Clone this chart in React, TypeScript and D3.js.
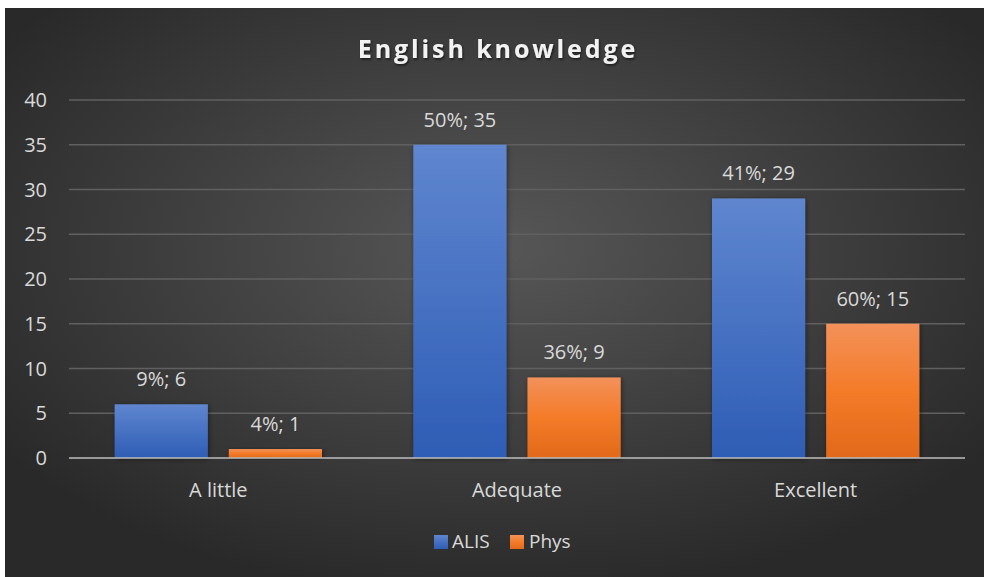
import React from "react";
import * as d3 from "d3";

const categories = ["A little", "Adequate", "Excellent"];
const seriesNames = ["ALIS", "Phys"];
const alisValues = [6, 35, 29];
const physValues = [1, 9, 15];
const alisPct = ["9%", "50%", "41%"];
const physPct = ["4%", "36%", "60%"];
const yTicks = [0, 5, 10, 15, 20, 25, 30, 35, 40];

const W = 984;
const H = 577;
const font = "'Open Sans', sans-serif";
const textColor = "#d9d9d9";

function App() {
  const margin = { left: 69, right: 19, top: 100, bottom: 119 };
  const plotW = W - margin.left - margin.right;

  const x0 = d3
    .scaleBand()
    .domain(categories)
    .range([margin.left, W - margin.right])
    .paddingInner(0)
    .paddingOuter(0);

  const x1 = d3
    .scaleBand()
    .domain(seriesNames)
    .range([0, x0.bandwidth()])
    .paddingInner(0.184)
    .paddingOuter(0.4);

  const y = d3
    .scaleLinear()
    .domain([0, 40])
    .range([H - margin.bottom, margin.top]);

  const series = [
    { name: "ALIS", values: alisValues, pct: alisPct, fill: "url(#gBlue)" },
    { name: "Phys", values: physValues, pct: physPct, fill: "url(#gOrange)" },
  ];

  return (
    <svg
      width={W}
      height={H}
      style={{ position: "absolute", left: 0, top: 0 }}
      fontFamily={font}
    >
      <defs>
        <radialGradient id="bg" cx="0.5" cy="0.42" r="0.62">
          <stop offset="0%" stopColor="#575757" />
          <stop offset="100%" stopColor="#292929" />
        </radialGradient>
        <linearGradient id="gBlue" x1="0" y1="0" x2="0" y2="1">
          <stop offset="0%" stopColor="#5f86cf" />
          <stop offset="100%" stopColor="#2e5db5" />
        </linearGradient>
        <linearGradient id="gOrange" x1="0" y1="0" x2="0" y2="1">
          <stop offset="0%" stopColor="#f3915a" />
          <stop offset="50%" stopColor="#f47b28" />
          <stop offset="100%" stopColor="#e2691a" />
        </linearGradient>
        <filter id="shadow" x="-20%" y="-20%" width="140%" height="140%">
          <feDropShadow dx="1" dy="1" stdDeviation="2.5" floodColor="#000" floodOpacity="0.45" />
        </filter>
        <filter id="tshadow" x="-10%" y="-30%" width="120%" height="160%">
          <feDropShadow dx="1" dy="1.5" stdDeviation="1.2" floodColor="#000" floodOpacity="0.6" />
        </filter>
      </defs>

      <rect x={5} y={8} width={W - 5} height={H - 8} fill="url(#bg)" />

      {/* grid */}
      <g>
        {yTicks.map((t) => (
          <g key={t}>
            {t > 0 && (
              <line
                x1={margin.left}
                x2={margin.left + plotW}
                y1={y(t)}
                y2={y(t)}
                stroke="#606060"
                strokeWidth={1.5}
              />
            )}
            <text
              x={47}
              y={y(t)}
              dy="0.36em"
              textAnchor="end"
              fill={textColor}
              fontSize={20}
            >
              {t}
            </text>
          </g>
        ))}
      </g>

      {/* bars */}
      {series.map((s) => (
        <g key={s.name}>
          {categories.map((c, i) => {
            const bx = (x0(c) as number) + (x1(s.name) as number);
            const bw = x1.bandwidth();
            const v = s.values[i];
            return (
              <g key={c}>
                <rect
                  x={bx}
                  y={y(v)}
                  width={bw}
                  height={y(0) - y(v)}
                  fill={s.fill}
                  filter="url(#shadow)"
                />
                <text
                  x={bx + bw / 2}
                  y={y(v) - 18}
                  textAnchor="middle"
                  fill={textColor}
                  fontSize={20}
                >
                  {s.pct[i] + "; " + v}
                </text>
              </g>
            );
          })}
        </g>
      ))}

      {/* baseline */}
      <line
        x1={margin.left}
        x2={margin.left + plotW}
        y1={y(0)}
        y2={y(0)}
        stroke="#bdbdbd"
        strokeOpacity={0.75}
        strokeWidth={2}
      />

      {/* category labels */}
      {categories.map((c) => (
        <text
          key={c}
          x={(x0(c) as number) + x0.bandwidth() / 2}
          y={497}
          textAnchor="middle"
          fill={textColor}
          fontSize={20}
        >
          {c}
        </text>
      ))}

      {/* title */}
      <text
        x={498}
        y={58}
        textAnchor="middle"
        fill="#f2f2f2"
        fontSize={25}
        fontWeight="bold"
        letterSpacing={2.9}
        filter="url(#tshadow)"
      >
        English knowledge
      </text>

      {/* legend */}
      <g>
        <rect x={434} y={535} width={14} height={14} fill="url(#gBlue)" />
        <text x={452} y={548} fill={textColor} fontSize={19}>
          ALIS
        </text>
        <rect x={510} y={535} width={14} height={14} fill="url(#gOrange)" />
        <text x={529} y={548} fill={textColor} fontSize={19}>
          Phys
        </text>
      </g>
    </svg>
  );
}

export default App;
